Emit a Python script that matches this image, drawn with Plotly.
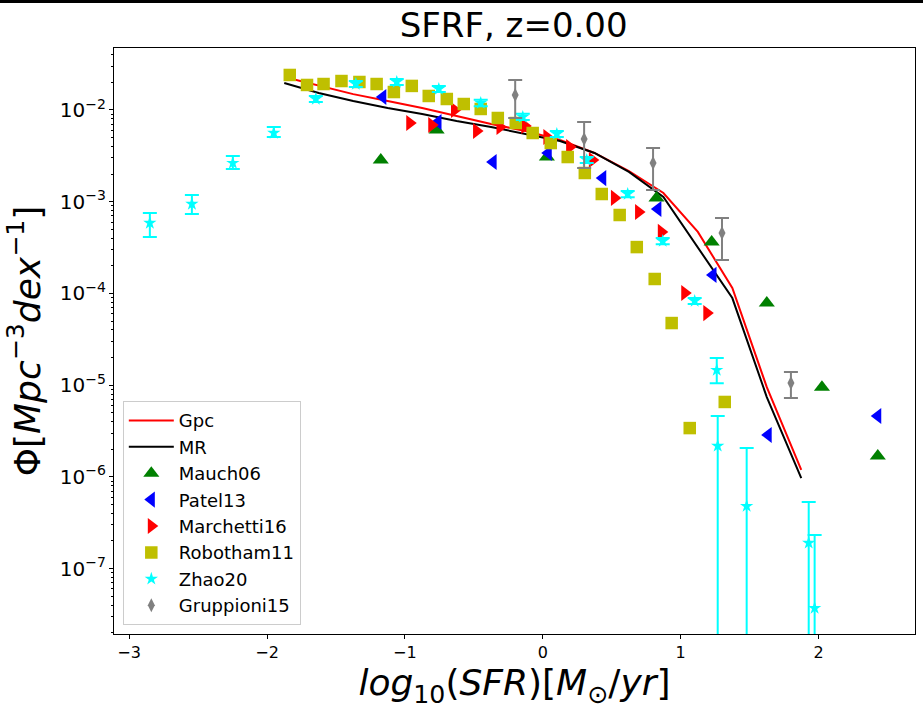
import plotly.graph_objects as go

# ---------------- data ----------------
line_x = [-1.875, -1.625, -1.375, -1.125, -0.875, -0.625, -0.375, -0.125,
          0.125, 0.375, 0.625, 0.875, 1.125, 1.375, 1.625, 1.875]
gpc_phi = [0.0229, 0.0183, 0.0149, 0.01253, 0.01052, 0.00861, 0.00703, 0.0059,
           0.00471, 0.0034, 0.00216, 0.001245, 0.000468, 0.0001146, 9.5e-6, 1.19e-6]
mr_phi = [0.0197, 0.0153, 0.01253, 0.01052, 0.00904, 0.00759, 0.00653, 0.00547,
          0.00459, 0.0034, 0.00211, 0.001125, 0.00032, 8.9e-5, 7.4e-6, 9.7e-7]

mauch_x = [-1.175, -0.77, 0.03, 0.825, 1.225, 1.625, 2.025, 2.43]
mauch_phi = [0.00285, 0.00605, 0.00307, 0.0011, 0.000363, 7.85e-5, 9.5e-6, 1.69e-6]

patel_x = [-1.16, -0.76, -0.36, 0.04, 0.435, 0.835, 1.235, 1.635, 2.43]
patel_phi = [0.01387, 0.0074, 0.00271, 0.0034, 0.00181, 0.000832, 0.000159, 2.86e-6, 4.6e-6]

marchetti_x = [-0.965, -0.805, -0.64, -0.48, -0.31, -0.13, 0.03, 0.195, 0.36,
               0.52, 0.695, 0.86, 1.03, 1.19]
marchetti_phi = [0.00721, 0.00686, 0.01, 0.0059, 0.00653, 0.0067, 0.00508, 0.00395,
                 0.00285, 0.0011, 0.000772, 0.000468, 0.000101, 6.1e-5]

robotham_x = [-1.835, -1.71, -1.59, -1.46, -1.33, -1.205, -1.08, -0.95, -0.827,
              -0.696, -0.573, -0.45, -0.326, -0.196, -0.073, 0.058, 0.181, 0.305,
              0.428, 0.558, 0.682, 0.812, 0.935, 1.066, 1.32]
robotham_phi = [0.0241, 0.01875, 0.0192, 0.0207, 0.0202, 0.0192, 0.0157, 0.0183,
                0.01422, 0.01318, 0.01162, 0.01026, 0.00818, 0.00721, 0.00561,
                0.00436, 0.00307, 0.002056, 0.001213, 0.000716, 0.00032, 0.0001436,
                4.75e-5, 3.4e-6, 6.55e-6]

zhao_x = [-2.85, -2.545, -2.248, -1.951, -1.646, -1.356, -1.059, -0.754, -0.45,
          -0.145, 0.102, 0.319, 0.616, 0.87, 1.102, 1.262, 1.269, 1.479, 1.929, 1.972]
zhao_phi = [0.000586, 0.000944, 0.00264, 0.00561, 0.01318, 0.0192, 0.0202, 0.01695,
            0.01191, 0.00839, 0.00547, 0.00285, 0.001213, 0.000372, 8.26e-5,
            1.46e-5, 2.17e-6, 4.8e-7, 1.9e-7, 3.7e-8]
zhao_hi = [0.000753, 0.00118, 0.00315, 0.00653, 0.01422, 0.0207, 0.0218, 0.0183,
           0.0129, 0.0091, 0.0059, 0.00308, 0.00131, 0.000402, 8.9e-5,
           1.98e-5, 4.6e-6, 2.06e-6, 5.3e-7, 2.32e-7]
zhao_lo = [0.000412, 0.000734, 0.00227, 0.00508, 0.01222, 0.0178, 0.0187, 0.0157,
           0.0110, 0.00778, 0.00507, 0.00264, 0.00112, 0.000344, 7.65e-5,
           1.05e-5, 0.0, 0.0, 0.0, 0.0]

grupp_x = [-0.2, 0.3, 0.8, 1.3, 1.8]
grupp_phi = [0.01459, 0.00483, 0.00264, 0.000456, 1.054e-5]
grupp_hi = [0.0212, 0.0074, 0.00385, 0.000664, 1.39e-5]
grupp_lo = [0.00818, 0.00233, 0.00134, 0.000231, 7.23e-6]

# ---------------- figure ----------------
FONT = "DejaVu Sans"
fig = go.Figure()

fig.add_trace(go.Scatter(x=line_x, y=gpc_phi, mode="lines", name="Gpc",
                         line=dict(color="#ff0000", width=2)))
fig.add_trace(go.Scatter(x=line_x, y=mr_phi, mode="lines", name="MR",
                         line=dict(color="#000000", width=2)))

fig.add_trace(go.Scatter(x=mauch_x, y=mauch_phi, mode="markers", name="Mauch06",
                         marker=dict(symbol="triangle-up", size=14, color="#008000")))
fig.add_trace(go.Scatter(x=patel_x, y=patel_phi, mode="markers", name="Patel13",
                         marker=dict(symbol="triangle-left", size=14, color="#0000ff")))
fig.add_trace(go.Scatter(x=marchetti_x, y=marchetti_phi, mode="markers", name="Marchetti16",
                         marker=dict(symbol="triangle-right", size=14, color="#ff0000")))
fig.add_trace(go.Scatter(x=robotham_x, y=robotham_phi, mode="markers", name="Robotham11",
                         marker=dict(symbol="square", size=12.5, color="#bfbf00")))

zhao_plus = [h - p for h, p in zip(zhao_hi, zhao_phi)]
zhao_minus = [p - l for p, l in zip(zhao_phi, zhao_lo)]
fig.add_trace(go.Scatter(x=zhao_x, y=zhao_phi, mode="markers", name="Zhao20",
                         marker=dict(symbol="star", size=10, color="#00ffff"),
                         error_y=dict(type="data", symmetric=False, array=zhao_plus,
                                      arrayminus=zhao_minus, color="#00ffff",
                                      thickness=2, width=7)))

grupp_plus = [h - p for h, p in zip(grupp_hi, grupp_phi)]
grupp_minus = [p - l for p, l in zip(grupp_phi, grupp_lo)]
fig.add_trace(go.Scatter(x=grupp_x, y=grupp_phi, mode="markers", name="Gruppioni15",
                         marker=dict(symbol="diamond-tall", size=10, color="#808080"),
                         error_y=dict(type="data", symmetric=False, array=grupp_plus,
                                      arrayminus=grupp_minus, color="#808080",
                                      thickness=2, width=7)))

fig.update_layout(
    width=923, height=721,
    margin=dict(l=114, r=8, t=48, b=87, autoexpand=False),
    paper_bgcolor="white", plot_bgcolor="white",
    font=dict(family=FONT, color="black", size=16),
    title=dict(text="SFRF, z=0.00", x=0.5565, xanchor="center", y=0.965, yanchor="middle",
               font=dict(size=34, family=FONT)),
    showlegend=True,
    legend=dict(x=0.011, y=0.015, xanchor="left", yanchor="bottom",
                bgcolor="rgba(255,255,255,0.8)", bordercolor="#cccccc", borderwidth=1,
                itemwidth=45,
                font=dict(size=18, family=FONT)),
    xaxis=dict(range=[-3.11, 2.70], tickmode="linear", tick0=-3, dtick=1,
               ticks="outside", ticklen=4, tickcolor="black", showgrid=False,
               zeroline=False, showline=True, linecolor="black", linewidth=1, mirror=True,
               tickfont=dict(size=16), automargin=False,
               title=dict(text="<i>log</i><sub>10</sub>(<i>SFR</i>)[<i>M</i><sub>⊙</sub>/<i>yr</i>]",
                          font=dict(size=36), standoff=6)),
    yaxis=dict(type="log", range=[-7.714, -1.324], dtick=1, exponentformat="power",
               ticks="outside", ticklen=4, tickcolor="black", showgrid=False,
               zeroline=False, showline=True, linecolor="black", linewidth=1, mirror=True,
               tickfont=dict(size=16), automargin=False,
               minor=dict(ticks="outside", ticklen=2, dtick="D1", tickcolor="black", showgrid=False),
               title=dict(text="Φ[<i>Mpc</i><sup>−3</sup><i>dex</i><sup>−1</sup>]",
                          font=dict(size=36), standoff=8)),
    shapes=[dict(type="rect", xref="paper", yref="paper",
                 x0=-0.2, x1=1.2, y0=1.0768, y1=1.09, fillcolor="black",
                 line=dict(width=0), layer="above")],
)

fig.write_html("out.html", config={"displayModeBar": False},
               post_script="document.body.style.margin='0';document.body.style.padding='0';")
